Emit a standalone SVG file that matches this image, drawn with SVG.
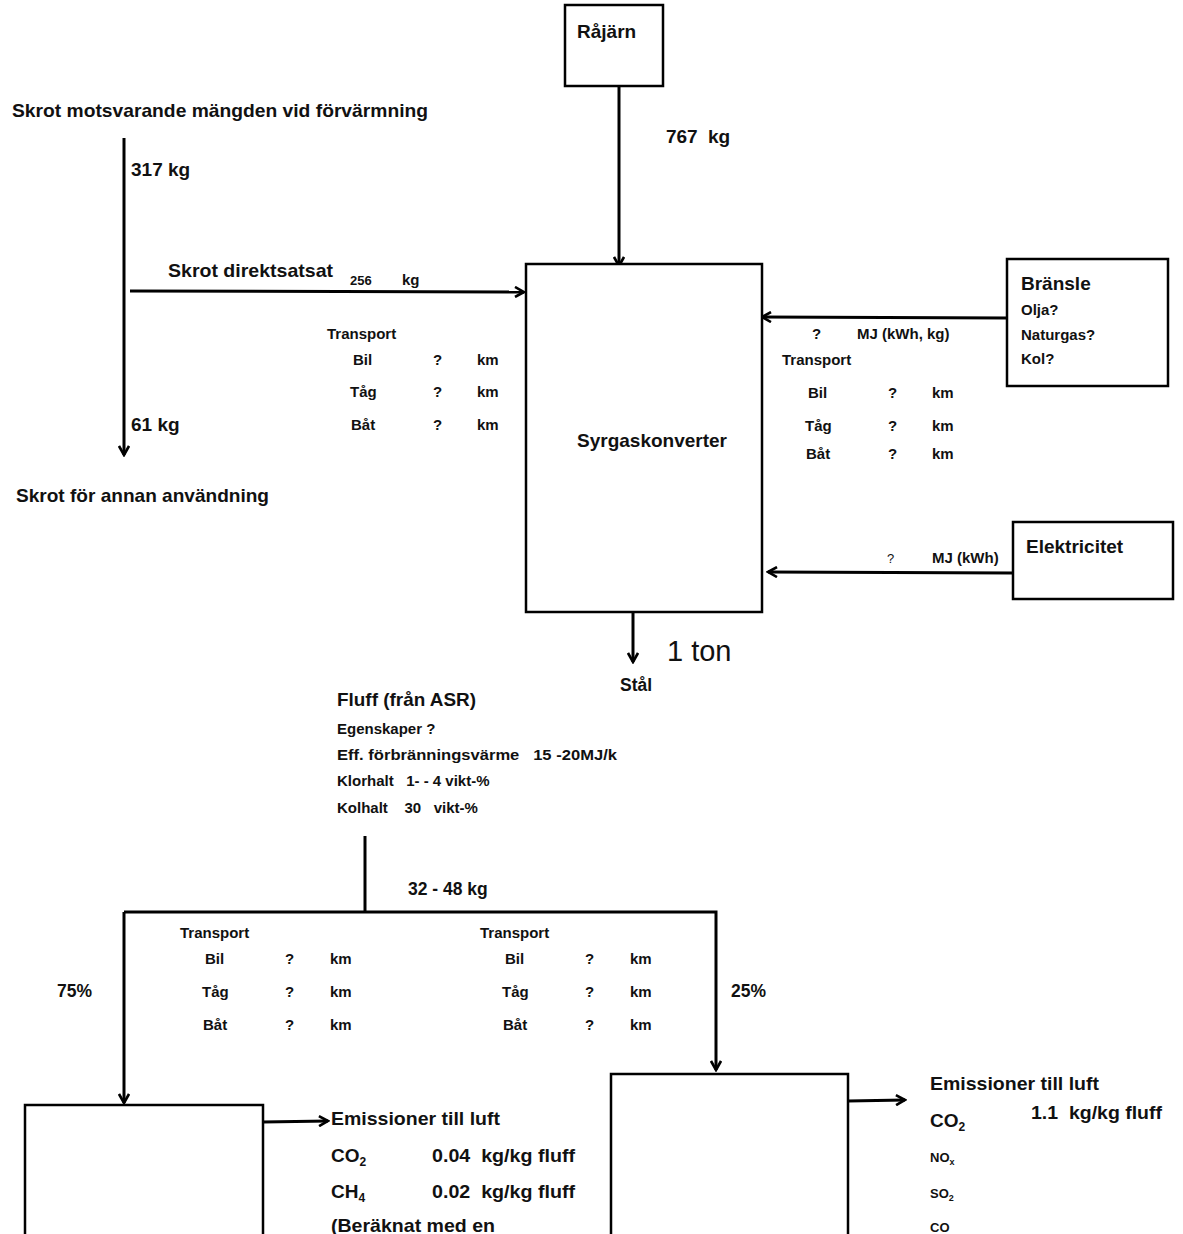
<svg xmlns="http://www.w3.org/2000/svg" width="1183" height="1234" viewBox="0 0 1183 1234">
<defs>
<marker id="ah" viewBox="0 0 12 12" refX="10" refY="6" markerWidth="12" markerHeight="12" markerUnits="userSpaceOnUse" orient="auto">
<polyline points="1,1 10,6 1,11" fill="none" stroke="#000" stroke-width="2.6"/>
</marker>
<style>
text{font-family:"Liberation Sans",Arial,sans-serif;fill:#111;font-weight:bold}
.t20{font-size:19px}
.t16{font-size:15px}
.t14{font-size:13px}
.t18{font-size:17.5px}
.n{font-weight:normal}
.box{fill:#fff;stroke:#000;stroke-width:2.5}
.ln{fill:none;stroke:#000;stroke-width:3}
</style>
</defs>
<rect width="1183" height="1234" fill="#fff"/>

<g id="connectors">
<line class="ln" x1="619" y1="86" x2="619" y2="266" marker-end="url(#ah)"/>
<line class="ln" x1="124" y1="138" x2="124" y2="455" marker-end="url(#ah)"/>
<line class="ln" x1="130" y1="291" x2="524" y2="292" marker-end="url(#ah)"/>
<line class="ln" x1="1007" y1="318" x2="762" y2="317" marker-end="url(#ah)"/>
<line class="ln" x1="1013" y1="573" x2="768" y2="572" marker-end="url(#ah)"/>
<line class="ln" x1="633" y1="612" x2="633" y2="662" marker-end="url(#ah)"/>
<line class="ln" x1="365" y1="836" x2="365" y2="912"/>
<polyline class="ln" points="124,912 716,912 716,1070" marker-end="url(#ah)"/>
<line class="ln" x1="124" y1="912" x2="124" y2="1103" marker-end="url(#ah)"/>
<line class="ln" x1="263" y1="1122" x2="328" y2="1121" marker-end="url(#ah)"/>
<line class="ln" x1="848" y1="1101" x2="905" y2="1100" marker-end="url(#ah)"/>
</g>

<g id="rajarn">
<rect class="box" x="565" y="5" width="98" height="81"/>
<text class="t20" x="577" y="38">Råjärn</text>
</g>
<text class="t20" x="666" y="143" xml:space="preserve" textLength="64" lengthAdjust="spacing">767  kg</text>

<g id="skrot">
<text class="t20" x="12" y="117" textLength="416" lengthAdjust="spacingAndGlyphs">Skrot motsvarande mängden vid förvärmning</text>
<text class="t20" x="131" y="176">317 kg</text>
<text class="t20" x="131" y="431">61 kg</text>
<text class="t20" x="16" y="502" textLength="253" lengthAdjust="spacingAndGlyphs">Skrot för annan användning</text>
<text class="t20" x="168" y="277" textLength="165" lengthAdjust="spacingAndGlyphs">Skrot direktsatsat</text>
<text class="t14" x="350" y="285">256</text>
<text class="t16" x="402" y="285">kg</text>
</g>

<g id="transport-left">
<text class="t16" x="327" y="339">Transport</text>
<text class="t16" x="353" y="365">Bil</text><text class="t16" x="433" y="365">?</text><text class="t16" x="477" y="365">km</text>
<text class="t16" x="350" y="397">Tåg</text><text class="t16" x="433" y="397">?</text><text class="t16" x="477" y="397">km</text>
<text class="t16" x="351" y="430">Båt</text><text class="t16" x="433" y="430">?</text><text class="t16" x="477" y="430">km</text>
</g>

<g id="syrgaskonverter">
<rect class="box" x="526" y="264" width="236" height="348"/>
<text class="t20" x="652" y="447" text-anchor="middle" textLength="150" lengthAdjust="spacingAndGlyphs">Syrgaskonverter</text>
</g>

<g id="bransle">
<rect class="box" x="1007" y="259" width="161" height="127"/>
<text class="t20" x="1021" y="290">Bränsle</text>
<text class="t16" x="1021" y="315">Olja?</text>
<text class="t16" x="1021" y="340">Naturgas?</text>
<text class="t16" x="1021" y="364">Kol?</text>
</g>
<g id="transport-right">
<text class="t16" x="812" y="339">?</text>
<text class="t16" x="857" y="339">MJ (kWh, kg)</text>
<text class="t16" x="782" y="365">Transport</text>
<text class="t16" x="808" y="398">Bil</text><text class="t16" x="888" y="398">?</text><text class="t16" x="932" y="398">km</text>
<text class="t16" x="805" y="431">Tåg</text><text class="t16" x="888" y="431">?</text><text class="t16" x="932" y="431">km</text>
<text class="t16" x="806" y="459">Båt</text><text class="t16" x="888" y="459">?</text><text class="t16" x="932" y="459">km</text>
</g>

<g id="elektricitet">
<rect class="box" x="1013" y="522" width="160" height="77"/>
<text class="t20" x="1026" y="553">Elektricitet</text>
</g>
<text class="t14 n" x="887" y="563">?</text>
<text class="t16" x="932" y="563">MJ (kWh)</text>

<g id="stal">
<text style="font-size:29px;font-weight:normal" x="667" y="661">1 ton</text>
<text class="t18" x="620" y="691">Stål</text>
</g>

<g id="fluff">
<text class="t20" x="337" y="706" textLength="139" lengthAdjust="spacingAndGlyphs">Fluff (från ASR)</text>
<text class="t16" x="337" y="734">Egenskaper ?</text>
<text class="t16" x="337" y="760" xml:space="preserve" textLength="280" lengthAdjust="spacingAndGlyphs">Eff. förbränningsvärme   15 -20MJ/k</text>
<text class="t16" x="337" y="786" xml:space="preserve">Klorhalt   1- - 4 vikt-%</text>
<text class="t16" x="337" y="813" xml:space="preserve">Kolhalt    30   vikt-%</text>
</g>
<text class="t18" x="408" y="895">32 - 48 kg</text>
<text class="t18" x="57" y="997">75%</text>
<text class="t18" x="731" y="997">25%</text>

<g id="transport-bl">
<text class="t16" x="180" y="938">Transport</text>
<text class="t16" x="205" y="964">Bil</text><text class="t16" x="285" y="964">?</text><text class="t16" x="330" y="964">km</text>
<text class="t16" x="202" y="997">Tåg</text><text class="t16" x="285" y="997">?</text><text class="t16" x="330" y="997">km</text>
<text class="t16" x="203" y="1030">Båt</text><text class="t16" x="285" y="1030">?</text><text class="t16" x="330" y="1030">km</text>
</g>
<g id="transport-br">
<text class="t16" x="480" y="938">Transport</text>
<text class="t16" x="505" y="964">Bil</text><text class="t16" x="585" y="964">?</text><text class="t16" x="630" y="964">km</text>
<text class="t16" x="502" y="997">Tåg</text><text class="t16" x="585" y="997">?</text><text class="t16" x="630" y="997">km</text>
<text class="t16" x="503" y="1030">Båt</text><text class="t16" x="585" y="1030">?</text><text class="t16" x="630" y="1030">km</text>
</g>

<g id="process-left">
<rect class="box" x="25" y="1105" width="238" height="140"/>
</g>
<g id="emissions-left">
<text class="t20" x="331" y="1125" textLength="169" lengthAdjust="spacingAndGlyphs">Emissioner till luft</text>
<text class="t20" x="331" y="1162">CO<tspan font-size="12" dy="4">2</tspan></text>
<text class="t20" x="432" y="1162" xml:space="preserve" textLength="143" lengthAdjust="spacingAndGlyphs">0.04  kg/kg fluff</text>
<text class="t20" x="331" y="1198">CH<tspan font-size="12" dy="4">4</tspan></text>
<text class="t20" x="432" y="1198" xml:space="preserve" textLength="143" lengthAdjust="spacingAndGlyphs">0.02  kg/kg fluff</text>
<text class="t20" x="331" y="1232" textLength="164" lengthAdjust="spacingAndGlyphs">(Beräknat med en</text>
</g>

<g id="process-right">
<rect class="box" x="611" y="1074" width="237" height="170"/>
</g>
<g id="emissions-right">
<text class="t20" x="930" y="1090" textLength="169" lengthAdjust="spacingAndGlyphs">Emissioner till luft</text>
<text class="t20" x="930" y="1127">CO<tspan font-size="12" dy="4">2</tspan></text>
<text class="t20" x="1031" y="1119" xml:space="preserve" textLength="131" lengthAdjust="spacingAndGlyphs">1.1  kg/kg fluff</text>
<text class="t14" x="930" y="1162">NO<tspan font-size="9" dy="3">x</tspan></text>
<text class="t14" x="930" y="1198">SO<tspan font-size="9" dy="3">2</tspan></text>
<text class="t14" x="930" y="1232">CO</text>
</g>
</svg>
